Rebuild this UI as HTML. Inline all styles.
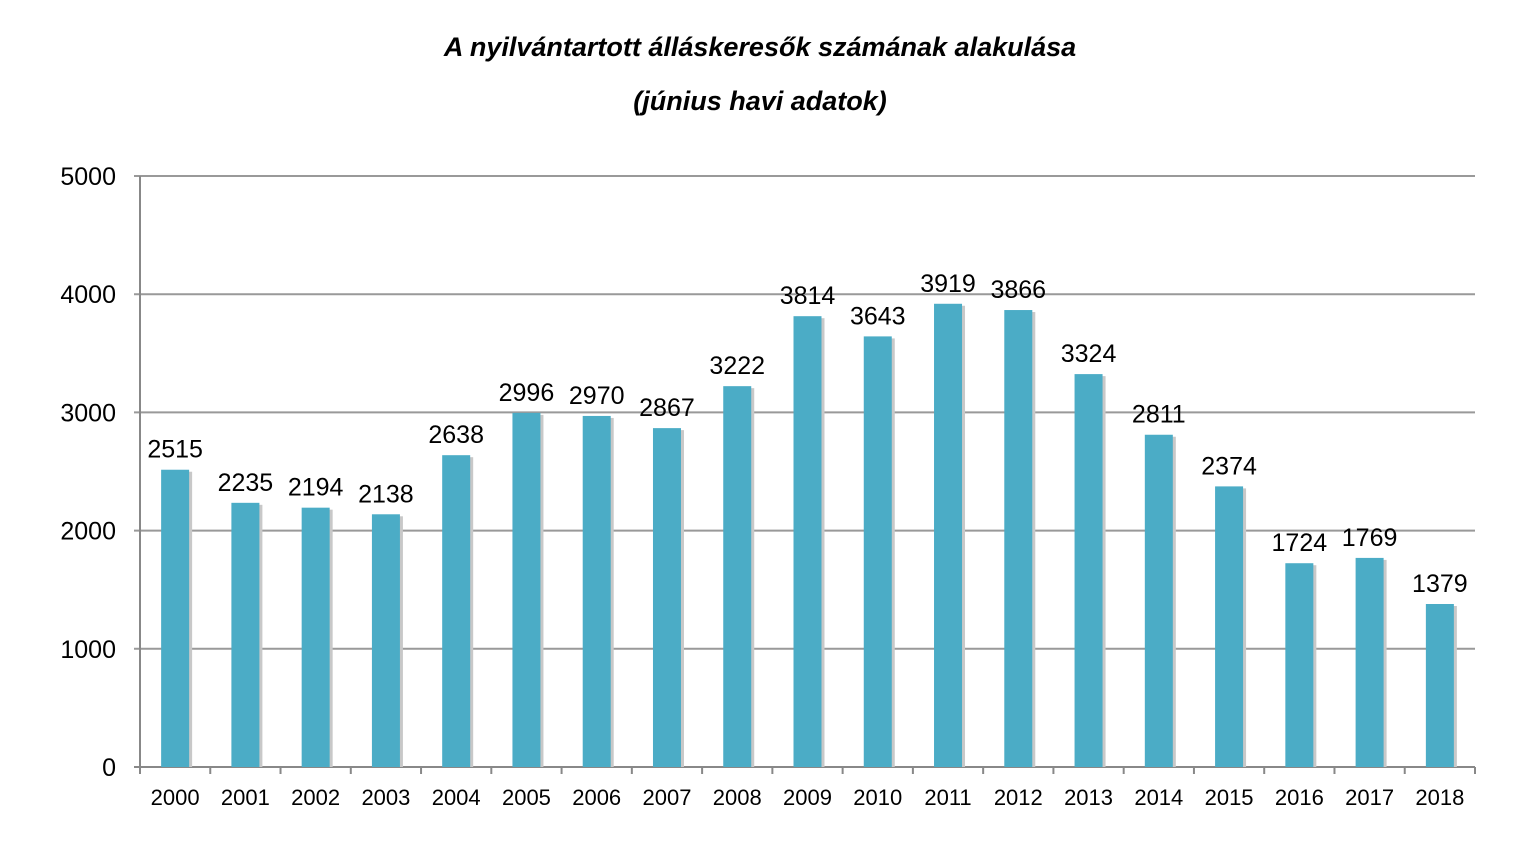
<!DOCTYPE html>
<html><head><meta charset="utf-8"><style>
html,body{margin:0;padding:0;background:#fff;}
svg{display:block;font-family:"Liberation Sans",sans-serif;}
</style></head><body>
<svg id="chart" width="1533" height="852">
<text x="760" y="56" text-anchor="middle" font-size="27" font-weight="bold" font-style="italic">A nyilvántartott álláskeresők számának alakulása</text>
<text x="760" y="110" text-anchor="middle" font-size="27" font-weight="bold" font-style="italic">(június havi adatok)</text>
<g id="grid"></g><g id="bars"></g><g id="labels"></g>
</svg>
<script>
const categories=["2000","2001","2002","2003","2004","2005","2006","2007","2008","2009","2010","2011","2012","2013","2014","2015","2016","2017","2018"];
const values=[2515,2235,2194,2138,2638,2996,2970,2867,3222,3814,3643,3919,3866,3324,2811,2374,1724,1769,1379];
const yTicks=[0,1000,2000,3000,4000,5000];
const NS="http://www.w3.org/2000/svg";
const x0=140,x1=1475,y0=767,y1=176,yMax=5000;
const bw=(x1-x0)/categories.length;
function y(v){return y0-(v/yMax)*(y0-y1);}
function xc(i){return x0+bw*(i+0.5);}
function mk(tag,attrs,parent,text){const e=document.createElementNS(NS,tag);for(const k in attrs)e.setAttribute(k,attrs[k]);if(text!==undefined)e.textContent=text;parent.appendChild(e);return e;}
const grid=document.getElementById('grid'),bars=document.getElementById('bars'),labels=document.getElementById('labels');
yTicks.forEach(t=>{
 const l=mk('line',{x1:x0-6,x2:x1,y1:y(t),y2:y(t),stroke:t===0?'#888':'#999','stroke-width':2},grid);
 
 
 const tx=mk('text',{x:116,y:y(t)+9,'text-anchor':'end','font-size':25},grid,String(t));
 
 
});
const ax=mk('line',{x1:x0,x2:x0,y1:y1,y2:y0,stroke:'#888','stroke-width':2},grid);


for(let i=0;i<=categories.length;i++){
 const tk=mk('line',{x1:x0+bw*i,x2:x0+bw*i,y1:y0,y2:y0+7,stroke:'#888','stroke-width':2},grid);
 
 
}
values.forEach((v,i)=>{
 const sh=mk('rect',{x:xc(i)-14+3,y:y(v)+2,width:28,height:y0-y(v)-2,fill:'#c8c8c8'},bars);
 
 
 const r=mk('rect',{x:xc(i)-14,y:y(v),width:28,height:y0-y(v),fill:'#4bacc6'},bars);
 
 
 const vl=mk('text',{x:xc(i),y:y(v)-12,'text-anchor':'middle','font-size':25},labels,String(v));
 
 
 const cl=mk('text',{x:xc(i),y:805,'text-anchor':'middle','font-size':22},labels,categories[i]);
 
 
});
</script>
</body></html>
